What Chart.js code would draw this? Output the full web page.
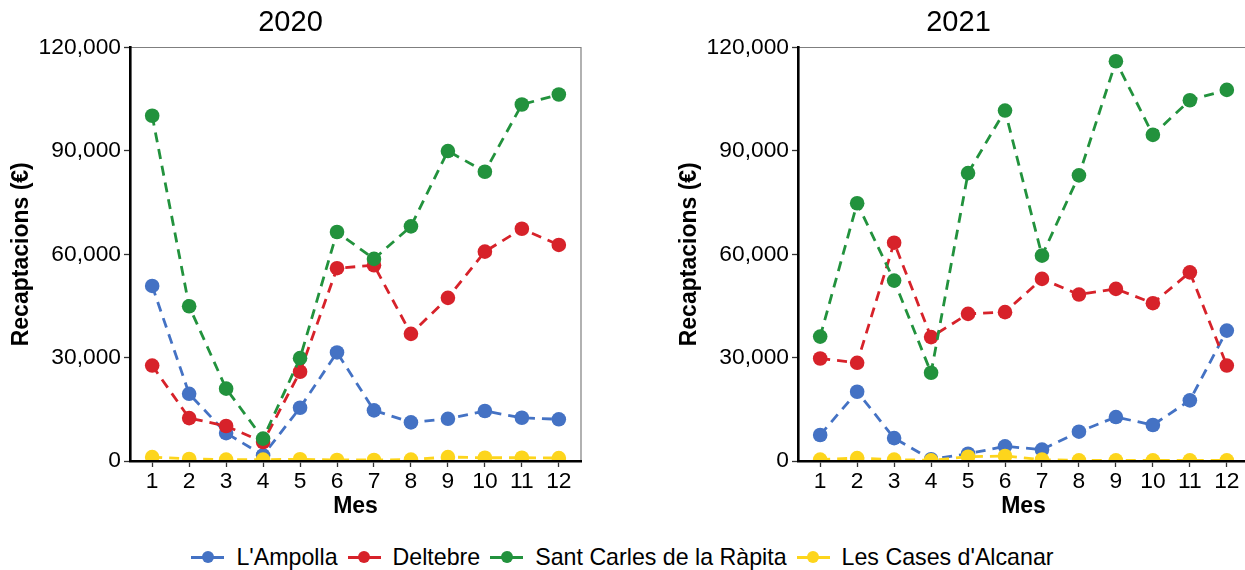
<!DOCTYPE html>
<html>
<head>
<meta charset="utf-8">
<script src="https://cdn.jsdelivr.net/npm/chart.js@4.4.1/dist/chart.umd.min.js"></script>
<style>
  body { margin: 0; width: 1245px; height: 570px; overflow: hidden; background: #fff; position: relative; }
  .panel { position: absolute; top: 0; width: 600px; height: 525px; }
  #legend {
    position: absolute; left: 0; top: 542px; width: 1245px; height: 30px;
    display: flex; justify-content: center; align-items: center;
    font-family: "Liberation Sans", Arial, sans-serif; font-size: 23.2px; color: #000;
  }
  .item { display: flex; align-items: center; margin: 0 5px; }
  .key { position: relative; width: 33px; height: 24px; margin-right: 12px; }
  .key .ln { position: absolute; left: 0; right: 0; top: 10.5px; height: 3px; }
  .key .dot { position: absolute; left: 10.5px; top: 6px; width: 12px; height: 12px; border-radius: 50%; }
</style>
</head>
<body>
<div class="panel" style="left:0"><canvas id="c2020"></canvas></div>
<div class="panel" style="left:668px"><canvas id="c2021"></canvas></div>
<div id="legend"></div>
<script>
const months = [1, 2, 3, 4, 5, 6, 7, 8, 9, 10, 11, 12];
const yTicks = [0, 30000, 60000, 90000, 120000];
const seriesNames = ["L'Ampolla", "Deltebre", "Sant Carles de la Ràpita", "Les Cases d'Alcanar"];
const seriesColors = ["#4472c4", "#d7222a", "#22923d", "#fdd51c"];

// 2020
const ampolla2020 = [50800, 19500, 8100, 1650, 15450, 31500, 14700, 11200, 12250, 14500, 12550, 12100];
const deltebre2020 = [27700, 12450, 10150, 5500, 25900, 55950, 56800, 36900, 47350, 60750, 67400, 62700];
const rapita2020 = [100200, 44900, 21000, 6500, 29850, 66450, 58650, 68100, 89950, 83950, 103450, 106350];
const alcanar2020 = [1150, 600, 400, 400, 500, 300, 300, 400, 1150, 950, 950, 850];

// 2021
const ampolla2021 = [7550, 20100, 6650, 500, 2100, 4250, 3300, 8500, 12750, 10450, 17600, 37850];
const deltebre2021 = [29750, 28500, 63350, 35950, 42700, 43200, 52850, 48300, 49950, 45800, 54750, 27700];
const rapita2021 = [36100, 74800, 52350, 25600, 83550, 101700, 59600, 82900, 116000, 94650, 104700, 107700];
const alcanar2021 = [400, 850, 400, 200, 1250, 1450, 400, 200, 200, 200, 200, 200];

const FONT = "'Liberation Sans', Arial, sans-serif";

// thin grey top/right panel border
const panelBorder = {
  id: "panelBorder",
  afterDatasetsDraw(chart) {
    const { ctx, chartArea: a } = chart;
    ctx.save();
    ctx.strokeStyle = "#7f7f7f";
    ctx.lineWidth = 1.2;
    ctx.beginPath();
    ctx.moveTo(a.left, a.top);
    ctx.lineTo(a.right, a.top);
    ctx.lineTo(a.right, a.bottom);
    ctx.stroke();
    ctx.restore();
  }
};

function drawPanel(id, year, data) {
  const datasets = data.map((vals, i) => ({
    label: seriesNames[i],
    data: months.map((m, j) => ({ x: m, y: vals[j] })),
    borderColor: seriesColors[i],
    backgroundColor: seriesColors[i],
    borderWidth: 2.8,
    borderDash: [10, 7],
    pointRadius: 7.3,
    pointBorderWidth: 0,
    pointHoverRadius: 7.3,
    tension: 0,
    clip: 0,
    order: 4 - i,
  }));

  new Chart(document.getElementById(id), {
    type: "line",
    data: { datasets: datasets },
    plugins: [panelBorder],
    options: {
      responsive: true,
      maintainAspectRatio: false,
      animation: false,
      events: [],
      layout: { padding: { left: 0, right: 19, top: 0, bottom: 0 } },
      plugins: {
        legend: { display: false },
        tooltip: { enabled: false },
        title: {
          display: true,
          text: year,
          color: "#000",
          font: { family: FONT, size: 29, weight: "normal" },
          padding: { top: 6, bottom: 6.7 },
        },
      },
      scales: {
        x: {
          type: "linear",
          min: 0.4,
          max: 12.6,
          afterBuildTicks: (s) => { s.ticks = months.map((v) => ({ value: v })); },
          afterFit: (s) => { s.height = 64; },
          ticks: {
            color: "#000",
            font: { family: FONT, size: 22.8 },
            padding: 1,
            maxRotation: 0,
            autoSkip: false,
            callback: (v) => String(v),
          },
          grid: { drawOnChartArea: false, tickLength: 6, tickColor: "#333", tickWidth: 1.3 },
          border: { color: "#000", width: 2.6, z: 1 },
          title: {
            display: true,
            text: "Mes",
            color: "#000",
            font: { family: FONT, size: 23, weight: "bold" },
            padding: { top: 0, bottom: 5 },
          },
        },
        y: {
          min: 0,
          max: 120000,
          afterBuildTicks: (s) => { s.ticks = yTicks.map((v) => ({ value: v })); },
          afterFit: (s) => { s.width = 130; },
          ticks: {
            color: "#000",
            font: { family: FONT, size: 22.8 },
            padding: 3,
            callback: (v) => v.toLocaleString("en-US"),
          },
          grid: { drawOnChartArea: false, tickLength: 6, tickColor: "#333", tickWidth: 1.3 },
          border: { color: "#000", width: 2.6, z: 1 },
          title: {
            display: true,
            text: "Recaptacions (€)",
            color: "#000",
            font: { family: FONT, size: 23, weight: "bold" },
            padding: { top: 8, bottom: 0 },
          },
        },
      },
    },
  });
}

drawPanel("c2020", "2020", [ampolla2020, deltebre2020, rapita2020, alcanar2020]);
drawPanel("c2021", "2021", [ampolla2021, deltebre2021, rapita2021, alcanar2021]);

// shared legend
const legend = document.getElementById("legend");
seriesNames.forEach((name, i) => {
  const item = document.createElement("div");
  item.className = "item";
  item.innerHTML =
    '<span class="key"><span class="ln" style="background:' + seriesColors[i] + '"></span>' +
    '<span class="dot" style="background:' + seriesColors[i] + '"></span></span><span></span>';
  item.lastChild.textContent = name;
  legend.appendChild(item);
});
</script>
</body>
</html>
